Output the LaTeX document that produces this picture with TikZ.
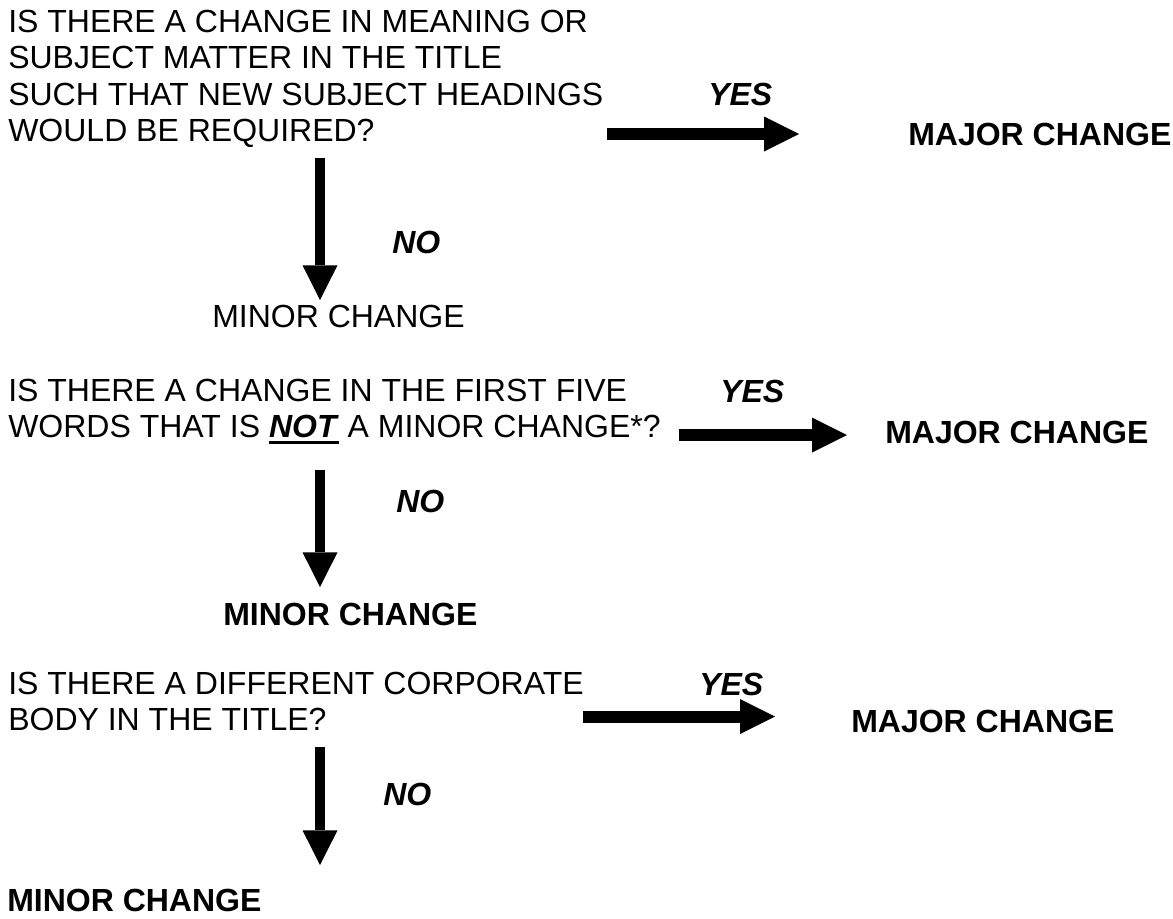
\documentclass[tikz,border=0pt]{standalone}
\usepackage{fontspec}
\setmainfont{Liberation Sans}
\usetikzlibrary{arrows.meta}

\newcommand{\thickul}[1]{\setbox0\hbox{#1}\rlap{\rule[-4.5pt]{\wd0}{2.25pt}}\box0\relax}

\tikzset{
  question/.style={anchor=north west, inner sep=0pt, align=left, font=\fontsize{24}{27.2}\selectfont},
  plain/.style={anchor=base west, inner sep=0pt, font=\fontsize{24}{27.2}\selectfont},
  answer/.style={plain, font=\fontsize{24}{27.2}\selectfont\bfseries\itshape},
  result/.style={plain, font=\fontsize{24}{27.2}\selectfont\bfseries},
  harrow/.style={line width=9pt, -{Triangle[length=26.25pt,width=26.25pt,line width=0pt]}},
  varrow/.style={line width=7.75pt, -{Triangle[length=26pt,width=26.25pt,line width=0pt]}}
}

\begin{document}
\begin{tikzpicture}[x=0.75pt,y=-0.75pt]
\useasboundingbox (0,0) rectangle (1173,918);

\node[question] (q1) at (8,10) {IS THERE A CHANGE IN MEANING OR\\SUBJECT MATTER IN THE TITLE\\SUCH THAT NEW SUBJECT HEADINGS\\WOULD BE REQUIRED?};
\node[answer] (yes1) at (708,105) {YES};
\node[result] (major1) at (908,145) {MAJOR CHANGE};
\node[answer] (no1) at (392,253) {NO};
\node[plain] (minor1) at (212,327) {MINOR CHANGE};

\node[question] (q2) at (8,379) {IS THERE A CHANGE IN THE FIRST FIVE\\WORDS THAT IS \thickul{\textbf{\textit{NOT}}} A MINOR CHANGE*?};
\node[answer] (yes2) at (720,402) {YES};
\node[result] (major2) at (885,443) {MAJOR CHANGE};
\node[answer] (no2) at (396,512) {NO};
\node[result] (minor2) at (223,625) {MINOR CHANGE};

\node[question] (q3) at (8,672) {IS THERE A DIFFERENT CORPORATE\\BODY IN THE TITLE?};
\node[answer] (yes3) at (699,695) {YES};
\node[result] (major3) at (851,732) {MAJOR CHANGE};
\node[answer] (no3) at (383,805) {NO};
\node[result] (minor3) at (7,911) {MINOR CHANGE};

\foreach \i/\hs/\he/\hy/\vs/\ve in {1/607/799/134/158/300, 2/679/847/435/470/587, 3/583/775/716.5/747/865} {
    \coordinate (yesstart\i) at (\hs,\hy);
    \coordinate (yesend\i) at (\he,\hy);
    \coordinate (nostart\i) at (320,\vs);
    \coordinate (noend\i) at (320,\ve);
    \draw[harrow] (yesstart\i) -- (yesend\i);
    \draw[varrow] (nostart\i) -- (noend\i);
}
\end{tikzpicture}
\end{document}
